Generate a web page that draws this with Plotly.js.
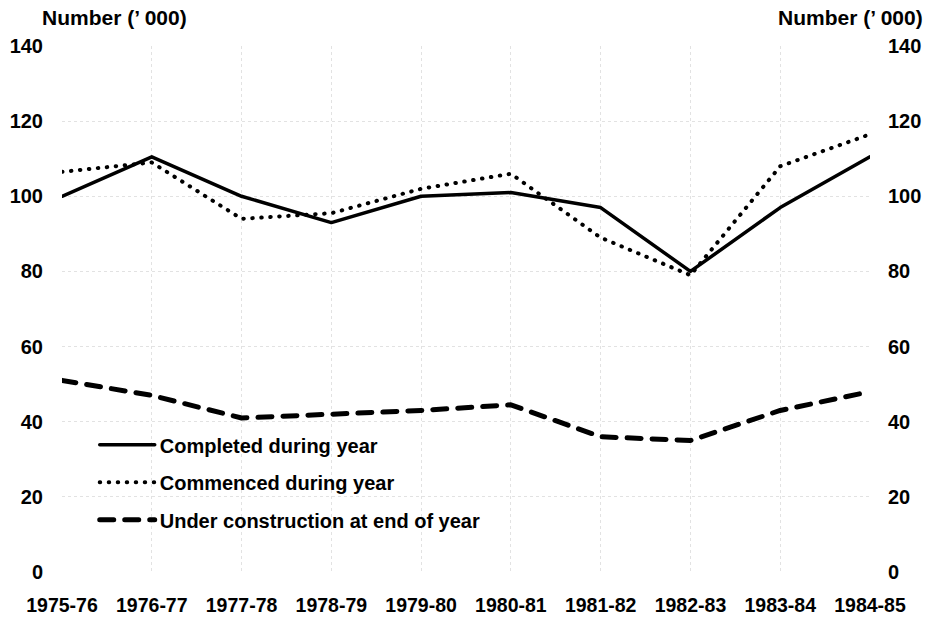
<!DOCTYPE html>
<html>
<head>
<meta charset="utf-8">
<script src="https://cdn.plot.ly/plotly-3.0.1.min.js"></script>
<style>
  html, body { margin: 0; padding: 0; background: #ffffff; }
  #chart { width: 934px; height: 619px; }
  path.js-line { stroke-linecap: round; stroke-linejoin: round; }
</style>
</head>
<body>
<div id="chart"></div>
<script>
// Dwellings, Australia: number ('000) per financial year
const years = ['1975-76', '1976-77', '1977-78', '1978-79', '1979-80',
               '1980-81', '1981-82', '1982-83', '1983-84', '1984-85'];
const completed = [100, 110.5, 100, 93, 100, 101, 97, 80, 97, 110.5];
const commenced = [106.5, 109, 94, 95.5, 102, 106, 89, 79, 108, 116.5];
const underConstruction = [51, 47, 41, 42, 43, 44.5, 36, 35, 43, 48];
const seriesNames = ['Completed during year', 'Commenced during year',
                     'Under construction at end of year'];
const yTicks = [0, 20, 40, 60, 80, 100, 120, 140];
const axisTitle = 'Number (\u2019 000)';

const FONT = 'Liberation Sans, Arial, sans-serif';
const xIdx = years.map((_, i) => i);
const bold = s => '<b>' + s + '</b>';

const traces = [
  {
    x: xIdx, y: completed, name: bold(seriesNames[0]), legendgroup: 'a',
    mode: 'lines', line: { color: '#000', width: 3.5 }, hoverinfo: 'skip'
  },
  {
    x: xIdx, y: commenced, name: bold(seriesNames[1]), legendgroup: 'b',
    mode: 'lines', line: { color: '#000', width: 4, dash: '0.5px,8.5px' }, hoverinfo: 'skip'
  },
  {
    x: xIdx, y: underConstruction, name: bold(seriesNames[2]), legendgroup: 'c',
    yaxis: 'y2',
    mode: 'lines', line: { color: '#000', width: 5, dash: '14px,11px' }, hoverinfo: 'skip'
  }
];

const gridStyle = { showgrid: true, gridcolor: '#e2e2e2', gridwidth: 1, griddash: 'dot' };
const tickFont = { family: FONT, size: 20, color: '#000', weight: 'bold' };

const layout = {
  width: 934, height: 619,
  margin: { l: 62, r: 64, t: 46, b: 47, pad: 0 },
  paper_bgcolor: '#ffffff', plot_bgcolor: '#ffffff',
  font: { family: FONT, color: '#000', size: 20 },
  showlegend: true,
  legend: {
    x: 0.0405, y: 0.279, xanchor: 'left', yanchor: 'top',
    bgcolor: 'rgba(0,0,0,0)', borderwidth: 0,
    font: { family: FONT, size: 20, color: '#000' },
    itemwidth: 55, tracegroupgap: 8.5, traceorder: 'grouped'
  },
  xaxis: Object.assign({
    range: [0, 9], tickmode: 'array', tickvals: xIdx, ticktext: years,
    ticks: 'outside', ticklen: 16, tickcolor: 'rgba(0,0,0,0)',
    tickfont: { family: FONT, size: 19.5, color: '#000', weight: 'bold' },
    zeroline: false, showline: false, fixedrange: true
  }, gridStyle),
  yaxis: Object.assign({
    range: [0, 140], tickmode: 'array', tickvals: yTicks,
    ticks: 'outside', ticklen: 14, tickcolor: 'rgba(0,0,0,0)',
    tickfont: tickFont,
    zeroline: false, showline: false, fixedrange: true
  }, gridStyle),
  yaxis2: {
    overlaying: 'y', side: 'right',
    range: [0, 140], tickmode: 'array', tickvals: yTicks,
    ticks: 'outside', ticklen: 13, tickcolor: 'rgba(0,0,0,0)',
    tickfont: tickFont,
    showgrid: false, zeroline: false, showline: false, fixedrange: true
  },
  annotations: [
    {
      xref: 'paper', yref: 'paper', x: -0.027, y: 1.055,
      xanchor: 'left', yanchor: 'middle', showarrow: false,
      text: bold(axisTitle), font: { family: FONT, size: 21, color: '#000' }
    },
    {
      xref: 'paper', yref: 'paper', x: 1.068, y: 1.055,
      xanchor: 'right', yanchor: 'middle', showarrow: false,
      text: bold(axisTitle), font: { family: FONT, size: 21, color: '#000' }
    }
  ]
};

Plotly.newPlot('chart', traces, layout, { displayModeBar: false, staticPlot: true });
</script>
</body>
</html>
